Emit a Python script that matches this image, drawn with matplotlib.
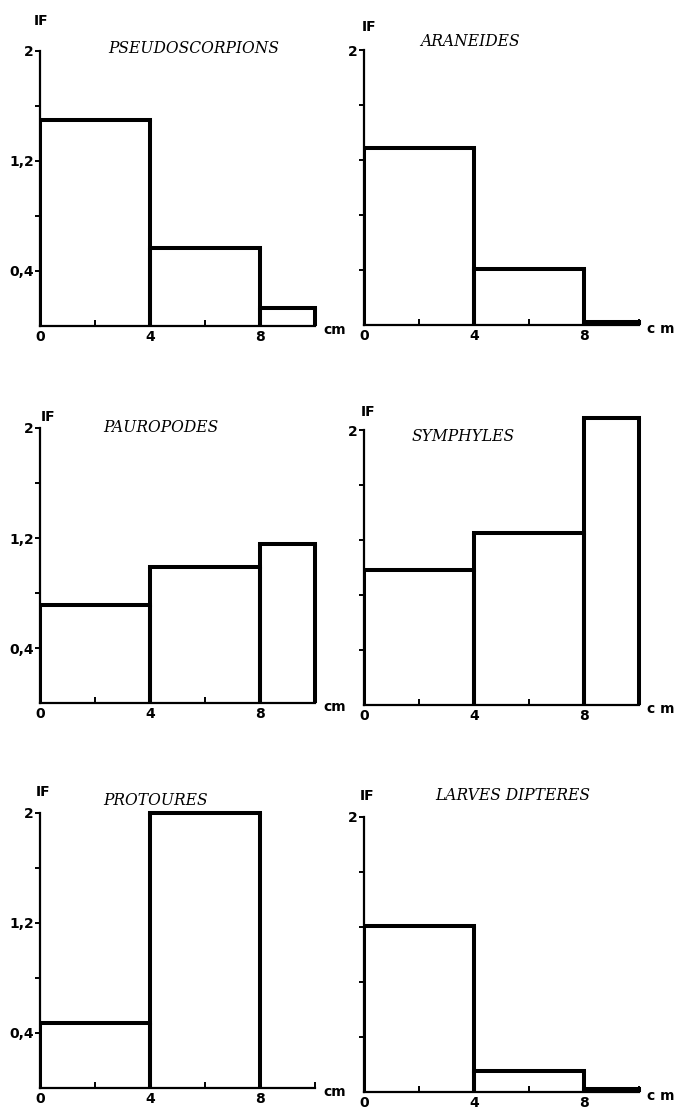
import matplotlib
matplotlib.use("Agg")
import matplotlib.pyplot as plt
import numpy as np

# ---- donnees (indice IF par tranche de profondeur, cm) ----
bords = [0, 4, 8, 10]
groupes = ["PSEUDOSCORPIONS", "ARANEIDES", "PAUROPODES",
           "SYMPHYLES", "PROTOURES", "LARVES DIPTERES"]
pseudoscorpions = [1.50, 0.57, 0.13]
araneides = [1.29, 0.41, 0.02]
pauropodes = [0.71, 0.99, 1.16]
symphyles = [0.98, 1.25, 2.09]
protoures = [0.47, 2.00, 0.0]
larves_dipteres = [1.21, 0.15, 0.02]
valeurs = [pseudoscorpions, araneides, pauropodes,
           symphyles, protoures, larves_dipteres]

yticks = [0.4, 0.8, 1.2, 1.6, 2.0]
ylab_gauche = ["0,4", "", "1,2", "", "2"]
ylab_droite = ["", "", "", "", "2"]
xticks = [0, 2, 4, 6, 8, 10]
xlab = ["0", "", "4", "", "8", ""]

# ---- mise en page (pixels) ----
W, H = 676, 1114
origines = [(40, 326), (364, 325), (40, 703), (364, 705), (40, 1088), (364, 1092)]
px_cm, px_if = 27.5, 137.5
xmax, ymax = 10.5, 2.3
titre_pos = [(5.6, 2.02), (3.85, 2.06), (4.4, 2.0), (3.6, 1.95), (4.2, 2.09), (5.4, 2.16)]
if_pos = [(0.05, 2.22), (0.2, 2.17), (0.3, 2.08), (0.15, 2.13), (0.1, 2.15), (0.1, 2.15)]
cm_txt = ["cm", "c m", "cm", "c m", "cm", "c m"]

fig = plt.figure(figsize=(W / 100, H / 100), dpi=100)

for k in range(6):
    ox, oy = origines[k]
    ax = fig.add_axes([ox / W, (H - oy) / H, xmax * px_cm / W, ymax * px_if / H])
    ax.set_xlim(0, xmax)
    ax.set_ylim(0, ymax)
    ax.patch.set_alpha(0)

    v = np.array(valeurs[k])
    g = np.array(bords[:-1])
    d = np.array(bords[1:])
    m = v > 0
    # histogramme: chaque barre dessinee separement, traits epais
    ax.hlines(v[m], g[m], d[m], color="black", lw=2.9, capstyle="projecting")
    ax.vlines(g[m], 0, v[m], color="black", lw=2.9)
    ax.vlines(d[m], 0, v[m], color="black", lw=2.9)

    for s in ["top", "right"]:
        ax.spines[s].set_visible(False)
    ax.spines["left"].set_bounds(0, 2)
    ax.spines["bottom"].set_bounds(0, 10)
    ax.spines["left"].set_linewidth(1.6)
    ax.spines["bottom"].set_linewidth(1.6)

    ax.set_yticks(yticks)
    ax.set_yticklabels(ylab_gauche if k % 2 == 0 else ylab_droite)
    ax.set_xticks(xticks)
    ax.set_xticklabels(xlab)
    ax.tick_params(axis="y", direction="out", length=3.5, width=1.4, pad=1,
                   labelsize=10)
    ax.tick_params(axis="x", direction="in", length=4, width=1.4, pad=3,
                   labelsize=10)
    for t in ax.get_xticklabels() + ax.get_yticklabels():
        t.set_fontweight("bold")

    ax.text(titre_pos[k][0], titre_pos[k][1], groupes[k], ha="center", va="center",
            family="DejaVu Serif", style="italic", fontsize=11.2)
    ax.text(if_pos[k][0], if_pos[k][1], "IF", ha="center", va="center",
            fontweight="bold", fontsize=10, clip_on=False)
    ax.text(10.3, -0.03, cm_txt[k], ha="left", va="center",
            fontweight="bold", fontsize=10, clip_on=False)

fig.savefig("out.png", dpi=100)
